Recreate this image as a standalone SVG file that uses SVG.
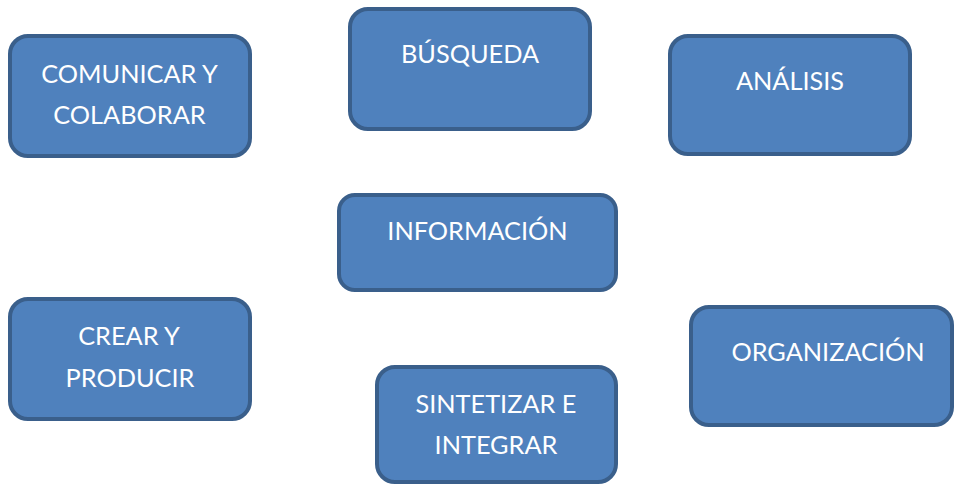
<svg xmlns="http://www.w3.org/2000/svg" width="954" height="485" viewBox="0 0 954 485">
<style>
.box{fill:#4F81BD;stroke:#3A5F8B;stroke-width:4}
.t{fill:#FFFFFF;font-family:Lato,"Open Sans","Liberation Sans",sans-serif;font-size:25.3px;text-anchor:middle}
</style>
<rect width="954" height="485" fill="#FFFFFF"/>
<g id="comunicar">
<rect class="box" x="10" y="36" width="240" height="120" rx="18"/>
<text class="t" x="129.5" y="83">COMUNICAR Y</text>
<text class="t" x="129.5" y="124">COLABORAR</text>
</g>
<g id="busqueda">
<rect class="box" x="350" y="9" width="240" height="120" rx="18"/>
<text class="t" x="470" y="63">BÚSQUEDA</text>
</g>
<g id="analisis">
<rect class="box" x="670" y="36" width="240" height="118" rx="18"/>
<text class="t" x="790" y="90">ANÁLISIS</text>
</g>
<g id="informacion">
<rect class="box" x="339" y="195" width="277" height="95" rx="16"/>
<text class="t" x="477.5" y="240">INFORMACIÓN</text>
</g>
<g id="crear">
<rect class="box" x="10" y="299" width="240" height="120" rx="18"/>
<text class="t" x="129" y="345">CREAR Y</text>
<text class="t" x="130" y="387">PRODUCIR</text>
</g>
<g id="organizacion">
<rect class="box" x="691" y="307" width="261" height="118" rx="18"/>
<text class="t" x="828" y="361">ORGANIZACIÓN</text>
</g>
<g id="sintetizar">
<rect class="box" x="377" y="367" width="239" height="115" rx="18"/>
<text class="t" x="496" y="413">SINTETIZAR E</text>
<text class="t" x="496" y="454">INTEGRAR</text>
</g>
<g id="connectors"></g>
</svg>
